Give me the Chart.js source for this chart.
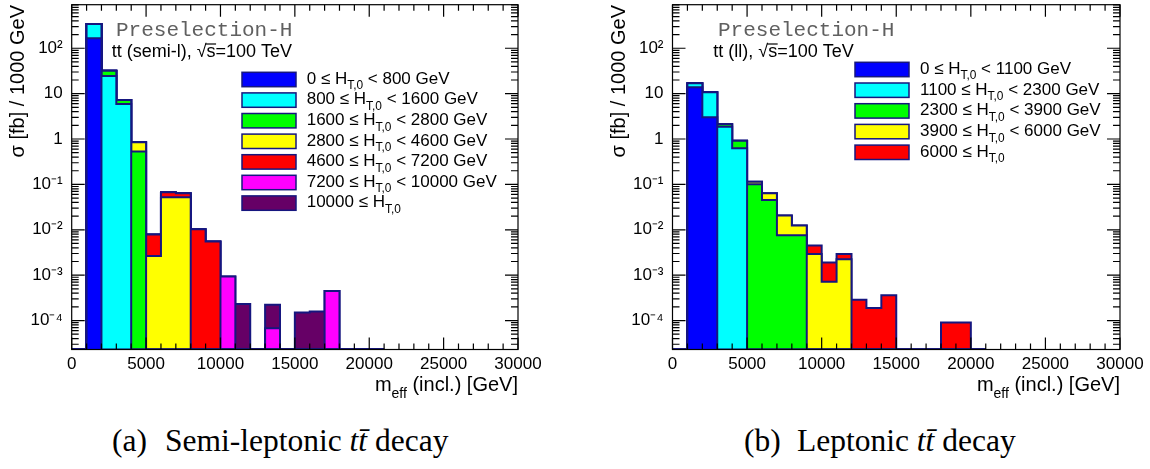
<!DOCTYPE html>
<html>
<head>
<meta charset="utf-8">
<script src="https://cdn.jsdelivr.net/npm/chart.js@4.4.1/dist/chart.umd.min.js"></script>
<style>
  body { margin: 0; background: #fff; width: 1150px; height: 469px; overflow: hidden; position: relative; }
  canvas { position: absolute; top: 0; }
  #semiChart { left: 0; }
  #lepChart { left: 575px; }
  .cap { position: absolute; top: 425px; font-family: "Liberation Serif", serif; font-size: 31.5px; line-height: 32px; white-space: nowrap; color: #000; }
</style>
</head>
<body>
<canvas id="semiChart" width="575" height="400"></canvas>
<canvas id="lepChart" width="575" height="400"></canvas>
<div class="cap" style="left:112px">(a)</div>
<div class="cap" style="left:165px">Semi-leptonic <i>t</i><i>t&#x304;</i> decay</div>
<div class="cap" style="left:744px">(b)</div>
<div class="cap" style="left:797px">Leptonic <i>t</i><i>t&#x304;</i> decay</div>
<script>
// bins de m_eff (1000 GeV)
const mEffBinEdges = [0, 1000, 2000, 3000, 4000, 5000, 6000, 7000, 8000, 9000, 10000,
  11000, 12000, 13000, 14000, 15000, 16000, 17000, 18000, 19000, 20000, 21000];

const xTickValues = [0, 5000, 10000, 15000, 20000, 25000, 30000];
const xTickLabels = ['0', '5000', '10000', '15000', '20000', '25000', '30000'];
const yTickValues = [1e-4, 1e-3, 1e-2, 1e-1, 1, 10, 100];
const yTickLabels = ['10⁻⁴', '10⁻³', '10⁻²', '10⁻¹', '1', '10', '10²'];
const yMin = 2.3e-5;
const yMax = 912;

// (a) semi-leptonico, cortes en H_T,0
const semiHtEdges = [0, 800, 1600, 2800, 4600, 7200, 10000];
const semiHt0 = [0, 166, 0, 0, 0, 0, 0, 0, 0, 0, 0, 0, 0, 0, 0, 0, 0, 0, 0, 0, 0];
const semiHt1 = [0, 177, 24.5, 5.93, 0, 0, 0, 0, 0, 0, 0, 0, 0, 0, 0, 0, 0, 0, 0, 0, 0];
const semiHt2 = [0, 0, 7.6, 1.34, 0.528, 0, 0, 0, 0, 0, 0, 0, 0, 0, 0, 0, 0, 0, 0, 0, 0];
const semiHt3 = [0, 0, 0, 0, 0.32, 0.00266, 0.0522, 0.0522, 0, 0, 0, 0, 0, 0, 0, 0, 0, 0, 0, 0, 0];
const semiHt4 = [0, 0, 0, 0, 0, 0.00518, 0.0151, 0.0118, 0.0103, 0.0055, 0, 0, 0, 0, 0, 0, 0, 0, 0, 0, 0];
const semiHt5 = [0, 0, 0, 0, 0, 0, 0, 0, 0, 0, 0.00093, 0, 0, 0.000068, 0, 0, 0, 0.00045, 0, 0, 0];
const semiHt6 = [0, 0, 0, 0, 0, 0, 0, 0, 0, 0, 0, 0.00023, 0, 0.000154, 0, 0.00015, 0.000158, 0, 0, 0, 0];

// (b) leptonico
const lepHtEdges = [0, 1100, 2300, 3900, 6000];
const lepHt0 = [0, 13.8, 3.02, 0, 0, 0, 0, 0, 0, 0, 0, 0, 0, 0, 0, 0, 0, 0, 0, 0, 0];
const lepHt1 = [0, 3.1, 7.7, 1.87, 0.627, 0, 0, 0, 0, 0, 0, 0, 0, 0, 0, 0, 0, 0, 0, 0, 0];
const lepHt2 = [0, 0, 0, 0.25, 0.29, 0.101, 0.0456, 0.0076, 0.0076, 0, 0, 0, 0, 0, 0, 0, 0, 0, 0, 0, 0];
const lepHt3 = [0, 0, 0, 0, 0, 0.014, 0.018, 0.013, 0.0048, 0.00294, 0.00072, 0.00225, 0, 0, 0, 0, 0, 0, 0, 0, 0];
const lepHt4 = [0, 0, 0, 0, 0, 0, 0, 0, 0, 0.00155, 0.00118, 0.00069, 0.000286, 0.000188, 0.000362, 0, 0, 0, 0.00009, 0.00009, 0];

const coloresCapa = ['#0000ff', '#00ffff', '#00ff00', '#ffff00', '#ff0000', '#ff00ff', '#660066'];
const azulLinea = '#16167f';
const FUENTE = '"Liberation Sans", Arial, sans-serif';

function apilar(capas) {
  const sumas = new Array(capas[0].length).fill(0);
  return capas.map(capa => capa.map((v, i) => (sumas[i] += v)));
}

function puntosEscalon(acum) {
  const n = acum.length;
  return mEffBinEdges.map((e, i) => {
    const v = acum[Math.min(i, n - 1)];
    return { x: e, y: v > 0 ? v : yMin };
  });
}

function partesEtiqueta(edges, k) {
  const partes = [{ t: edges[k] + ' ≤ H' }, { t: 'T,0', sub: true }];
  if (k + 1 < edges.length) partes.push({ t: ' < ' + edges[k + 1] + ' GeV' });
  return partes;
}

function anchoRico(ctx, partes, size) {
  let w = 0;
  partes.forEach(p => {
    ctx.font = `${p.sub ? size * 0.7 : size}px ${FUENTE}`;
    w += ctx.measureText(p.t).width;
  });
  return w;
}

function textoRico(ctx, partes, x, y, size) {
  partes.forEach(p => {
    ctx.font = `${p.sub ? size * 0.7 : size}px ${FUENTE}`;
    ctx.fillText(p.t, x, y + (p.sub ? size * 0.33 : 0));
    x += ctx.measureText(p.t).width;
  });
  return x;
}

function decoracion(cfg, edges) {
  return {
    id: 'decoracion',
    afterDatasetsDraw(chart) {
      const { ctx, chartArea: a, scales: { x, y } } = chart;
      ctx.save();
      ctx.strokeStyle = '#000';
      ctx.lineWidth = 1.2;
      ctx.beginPath();
      for (let v = 0; v <= 30000; v += 1000) {
        const px = x.getPixelForValue(v);
        const len = v % 5000 === 0 ? 12 : 6;
        ctx.moveTo(px, a.bottom); ctx.lineTo(px, a.bottom - len);
        ctx.moveTo(px, a.top); ctx.lineTo(px, a.top + len);
      }
      for (let e = -5; e <= 2; e++) {
        for (let m = 1; m <= 9; m++) {
          const v = m * Math.pow(10, e);
          if (v < y.min || v > y.max) continue;
          const py = y.getPixelForValue(v);
          const len = m === 1 ? 13 : 7;
          ctx.moveTo(a.left, py); ctx.lineTo(a.left + len, py);
          ctx.moveTo(a.right, py); ctx.lineTo(a.right - len, py);
        }
      }
      ctx.stroke();
      ctx.strokeRect(a.left, a.top, a.right - a.left, a.bottom - a.top);
      ctx.restore();
    },
    afterDraw(chart) {
      const { ctx, chartArea: a } = chart;
      ctx.save();
      ctx.fillStyle = '#000';
      ctx.textAlign = 'left';
      ctx.textBaseline = 'alphabetic';

      // titulo eje y
      ctx.save();
      ctx.translate(a.left - 47.5, 5);
      ctx.rotate(-Math.PI / 2);
      ctx.textAlign = 'right';
      ctx.font = `20px ${FUENTE}`;
      ctx.fillText('σ [fb] / 1000 GeV', 0, 0);
      ctx.restore();

      // titulo eje x
      const tituloX = [{ t: 'm' }, { t: 'eff', sub: true }, { t: ' (incl.) [GeV]' }];
      textoRico(ctx, tituloX, a.right - anchoRico(ctx, tituloX, 20), 391, 20);

      // Preselection-H
      ctx.fillStyle = '#606060';
      ctx.font = '21px "Liberation Mono", monospace';
      ctx.fillText('Preselection-H', cfg.preX, 35.7);

      // proceso
      ctx.fillStyle = '#000';
      ctx.font = `18px ${FUENTE}`;
      let xx = cfg.tagX;
      ctx.fillText(cfg.tag, xx, 57.3);
      xx += ctx.measureText(cfg.tag).width;
      ctx.fillText('√', xx, 57.3);
      const xs = xx + ctx.measureText('√').width;
      ctx.fillText('s', xs, 57.3);
      const xe = xs + ctx.measureText('s').width;
      ctx.beginPath();
      ctx.lineWidth = 1.2;
      ctx.moveTo(xs - 1, 57.3 - 13.3);
      ctx.lineTo(xe + 0.5, 57.3 - 13.3);
      ctx.stroke();
      ctx.fillText('=100 TeV', xe, 57.3);

      // leyenda
      edges.forEach((e, k) => {
        const top = cfg.legTop + k * cfg.legPitch;
        ctx.fillStyle = coloresCapa[k];
        ctx.fillRect(cfg.boxX, top, 54, 14.4);
        ctx.strokeStyle = azulLinea;
        ctx.lineWidth = 1.5;
        ctx.strokeRect(cfg.boxX, top, 54, 14.4);
        ctx.fillStyle = '#000';
        textoRico(ctx, partesEtiqueta(edges, k), cfg.textX, top + 11.5, 17);
      });
      ctx.restore();
    }
  };
}

function crearHistograma(id, capas, edges, cfg) {
  const acum = apilar(capas);
  const datasets = acum.map((c, k) => ({
    label: edges[k],
    data: puntosEscalon(c),
    stepped: 'before',
    fill: 'start',
    backgroundColor: coloresCapa[k],
    borderColor: azulLinea,
    borderWidth: 2,
    pointRadius: 0
  }));

  new Chart(document.getElementById(id), {
    type: 'line',
    data: { datasets },
    options: {
      responsive: false,
      animation: false,
      events: [],
      layout: { padding: { left: 0, right: cfg.padRight, top: 4.7, bottom: 0 } },
      plugins: { legend: { display: false }, tooltip: { enabled: false } },
      scales: {
        x: {
          type: 'linear', min: 0, max: 30000,
          afterBuildTicks: s => { s.ticks = xTickValues.map(v => ({ value: v })); },
          ticks: {
            callback: (v, i) => xTickLabels[i],
            font: { family: 'Liberation Sans', size: 17 }, color: '#000',
            padding: 5, maxRotation: 0, autoSkip: false
          },
          grid: { display: false, drawTicks: false },
          border: { display: false },
          afterFit: s => { s.height = 50.5; }
        },
        y: {
          type: 'logarithmic', min: yMin, max: yMax,
          afterBuildTicks: s => { s.ticks = yTickValues.map(v => ({ value: v })); },
          ticks: {
            callback: (v, i) => yTickLabels[i],
            font: { family: 'Liberation Sans', size: 17 }, color: '#000',
            padding: 9, autoSkip: false
          },
          grid: { display: false, drawTicks: false },
          border: { display: false },
          afterFit: s => { s.width = cfg.frameLeft; s.paddingTop = 0; s.paddingBottom = 0; }
        }
      }
    },
    plugins: [decoracion(cfg, edges)]
  });
}

crearHistograma('semiChart',
  [semiHt0, semiHt1, semiHt2, semiHt3, semiHt4, semiHt5, semiHt6], semiHtEdges,
  { frameLeft: 71.7, padRight: 57, preX: 116, tagX: 111.7, tag: 'tt (semi-l), ',
    boxX: 242, textX: 306.7, legTop: 72.3, legPitch: 20.6 });

crearHistograma('lepChart',
  [lepHt0, lepHt1, lepHt2, lepHt3, lepHt4], lepHtEdges,
  { frameLeft: 97.5, padRight: 30, preX: 143, tagX: 138.3, tag: 'tt (ll), ',
    boxX: 280, textX: 345, legTop: 62.3, legPitch: 20.7 });
</script>
</body>
</html>
